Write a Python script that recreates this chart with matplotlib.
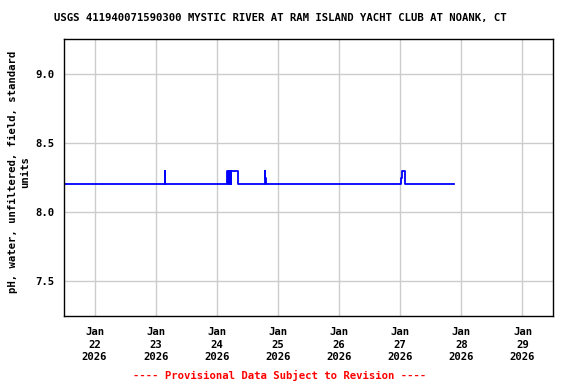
import datetime as dt

import matplotlib
matplotlib.use("Agg")
import matplotlib.pyplot as plt
import matplotlib.dates as mdates

# pH readings, listed at change points (held until the next point)
times = [
    "2026-01-21 12:00", "2026-01-23 03:30", "2026-01-23 03:45",
    "2026-01-24 04:00", "2026-01-24 04:30", "2026-01-24 04:45",
    "2026-01-24 05:00", "2026-01-24 05:15", "2026-01-24 05:30",
    "2026-01-24 05:45", "2026-01-24 06:00", "2026-01-24 08:30",
    "2026-01-24 18:45", "2026-01-24 19:00", "2026-01-24 19:15",
    "2026-01-27 00:30", "2026-01-27 00:45", "2026-01-27 01:45",
    "2026-01-27 21:00",
]
ph = [
    8.2, 8.3, 8.2,
    8.3, 8.2, 8.3,
    8.2, 8.3, 8.2,
    8.3, 8.3, 8.2,
    8.3, 8.25, 8.2,
    8.25, 8.3, 8.2,
    8.2,
]
day_ticks = ["2026-01-%02d" % d for d in range(22, 30)]
y_ticks = [7.5, 8.0, 8.5, 9.0]

title = "USGS 411940071590300 MYSTIC RIVER AT RAM ISLAND YACHT CLUB AT NOANK, CT"
ylabel = "pH, water, unfiltered, field, standard\nunits"
note = "---- Provisional Data Subject to Revision ----"

plt.rcParams['font.family'] = ['DejaVu Sans Mono']
plt.rcParams['font.weight'] = 'bold'
plt.rcParams['font.size'] = 7.7

t = [dt.datetime.strptime(s, "%Y-%m-%d %H:%M") for s in times]
ticks = [dt.datetime.strptime(s, "%Y-%m-%d") for s in day_ticks]

fig = plt.figure(figsize=(5.76, 3.84), dpi=100)
ax = fig.add_axes([64/576, 68/384, 489/576, 277/384])

ax.plot(t, ph, color="#0000ff", lw=1.3, drawstyle="steps-post")

ax.set_xlim(dt.datetime(2026, 1, 21, 12), dt.datetime(2026, 1, 29, 12))
ax.set_ylim(7.25, 9.25)
ax.set_xticks(ticks)
ax.set_xticklabels([d.strftime("Jan\n%d\n%Y") for d in ticks], linespacing=1.3)
ax.set_yticks(y_ticks)
ax.set_yticklabels(["%.1f" % v for v in y_ticks])
ax.tick_params(axis="x", length=0, pad=8)
ax.tick_params(axis="y", length=0, pad=7)
ax.grid(True, color="#cccccc", lw=1)
ax.set_axisbelow(True)
for sp in ax.spines.values():
    sp.set_linewidth(1)
    sp.set_color("black")

fig.text(0.486, 1 - 18/384, title, ha="center", va="center")
fig.text(19/576, 0.552, ylabel, ha="center", va="center", rotation=90,
         linespacing=1.35)
fig.text(280/576, 1 - 375/384, note, ha="center", va="center", color="red")

fig.savefig("out.png", dpi=100)
